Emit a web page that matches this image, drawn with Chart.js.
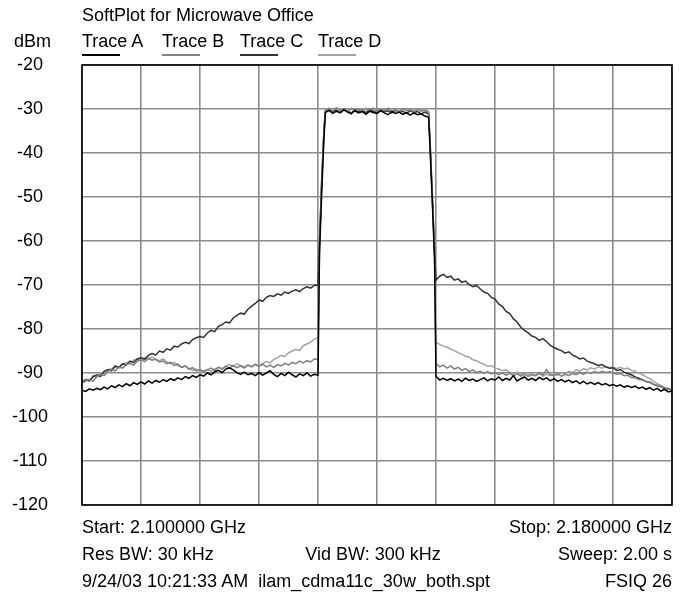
<!DOCTYPE html>
<html>
<head>
<meta charset="utf-8">
<script src="https://cdn.jsdelivr.net/npm/chart.js@4.4.1/dist/chart.umd.min.js"></script>
<style>
  html, body { margin: 0; padding: 0; background: #fff; }
  #wrap { position: relative; width: 685px; height: 593px; overflow: hidden; background: #fff;
          font-family: "Liberation Sans", Arial, Helvetica, sans-serif; color: #000; }
  #c { position: absolute; left: 0; top: 0; }
  .t { position: absolute; font-size: 18px; line-height: 20px; white-space: pre; }
  .ul { position: absolute; height: 2px; width: 38px; }
</style>
</head>
<body>
<div id="wrap">
  <canvas id="c" width="685" height="593"></canvas>
  <div class="t" style="left:82px; top:5px;">SoftPlot for Microwave Office</div>
  <div class="t" style="left:14px; top:31px;">dBm</div>
  <div id="legend"></div>
  <div class="t" style="left:82px; top:517px;">Start: 2.100000 GHz</div>
  <div class="t" style="right:13px; top:517px;">Stop: 2.180000 GHz</div>
  <div class="t" style="left:82px; top:544px;">Res BW: 30 kHz</div>
  <div class="t" style="left:373px; top:544px; transform:translateX(-50%);">Vid BW: 300 kHz</div>
  <div class="t" style="right:13px; top:544px;">Sweep: 2.00 s</div>
  <div class="t" style="left:82px; top:571px;">9/24/03 10:21:33 AM  ilam_cdma11c_30w_both.spt</div>
  <div class="t" style="right:13px; top:571px;">FSIQ 26</div>
</div>
<script>
// ---- axis definitions ----
const yTicks = [-20, -30, -40, -50, -60, -70, -80, -90, -100, -110, -120];
const xGrid = [2100, 2108, 2116, 2124, 2132, 2140, 2148, 2156, 2164, 2172, 2180];

// ---- sweep frequencies (MHz) ----
const freqs = [
  2100,2100.5,2101,2101.5,2102,2102.5,2103,2103.5,2104,2104.5,2105,2105.5,2106,2106.5,2107,2107.5,
  2108,2108.5,2109,2109.5,2110,2110.5,2111,2111.5,2112,2112.5,2113,2113.5,2114,2114.5,2115,2115.5,
  2116,2116.5,2117,2117.5,2118,2118.5,2119,2119.5,2120,2120.5,2121,2121.5,2122,2122.5,2123,2123.5,
  2124,2124.5,2125,2125.5,2126,2126.5,2127,2127.5,2128,2128.5,2129,2129.5,2130,2130.5,2131,2131.5,2132,
  2132.2,2132.5,2132.8,
  2133,2133.5,2134,2134.5,2135,2135.5,2136,2136.5,2137,2137.5,2138,2138.5,2139,2139.5,2140,2140.5,
  2141,2141.5,2142,2142.5,2143,2143.5,2144,2144.5,2145,2145.5,2146,2146.5,2147,
  2147.2,2147.5,2147.8,
  2148,2148.5,2149,2149.5,2150,2150.5,2151,2151.5,2152,2152.5,2153,2153.5,2154,2154.5,2155,2155.5,
  2156,2156.5,2157,2157.5,2158,2158.5,2159,2159.5,2160,2160.5,2161,2161.5,2162,2162.5,2163,2163.5,
  2164,2164.5,2165,2165.5,2166,2166.5,2167,2167.5,2168,2168.5,2169,2169.5,2170,2170.5,2171,2171.5,
  2172,2172.5,2173,2173.5,2174,2174.5,2175,2175.5,2176,2176.5,2177,2177.5,2178,2178.5,2179,2179.5,2180
];

// ---- Trace A (black) ----
const traceA = [
  -93.9,-94.2,-93.6,-93.9,-93.5,-93.8,-93.2,-93.6,-92.9,-93.3,-92.7,-93.1,-92.4,-92.9,-92.2,-92.6,
  -92.0,-92.5,-91.8,-92.3,-91.7,-92.1,-91.5,-91.9,-91.3,-91.7,-91.1,-91.5,-90.8,-91.2,-90.6,-91.0,
  -90.4,-90.7,-90.0,-90.4,-89.7,-89.4,-89.9,-89.1,-88.8,-89.3,-89.9,-90.3,-89.8,-90.4,-90.1,-90.6,
  -89.9,-90.5,-90.0,-89.5,-90.3,-90.8,-90.1,-90.6,-89.8,-90.4,-90.9,-90.2,-90.6,-90.0,-90.7,-90.3,-90.5,
  -63,-49,-37,
  -30.8,-30.3,-31.0,-30.5,-30.9,-30.2,-30.7,-31.1,-30.4,-30.9,-30.6,-31.2,-30.5,-30.8,-31.0,-30.4,
  -30.9,-31.3,-30.6,-31.0,-30.7,-31.2,-30.8,-31.4,-30.9,-31.3,-31.1,-31.6,-31.9,
  -39,-51,-64,
  -90.8,-91.6,-91.2,-91.7,-91.3,-91.8,-91.4,-91.9,-91.2,-91.7,-91.4,-91.9,-91.5,-91.1,-91.8,-91.3,
  -91.6,-90.9,-91.7,-91.2,-91.6,-90.6,-91.8,-91.3,-90.9,-91.6,-91.2,-91.7,-91.0,-91.5,-91.1,-91.8,
  -91.3,-91.9,-91.5,-92.0,-91.6,-92.2,-91.8,-92.4,-91.9,-92.5,-92.1,-92.6,-92.2,-92.7,-92.4,-92.9,
  -92.6,-93.0,-92.7,-93.2,-92.9,-93.3,-93.0,-93.5,-93.2,-93.7,-93.3,-93.9,-93.5,-94.1,-93.7,-94.3,-94.1
];

// ---- Trace B (medium gray) ----
const traceB = [
  -92.3,-91.8,-91.5,-91.9,-90.8,-90.3,-90.6,-89.6,-89.2,-89.5,-88.6,-88.9,-88.1,-87.8,-88.2,-87.3,
  -87.0,-87.4,-86.7,-87.1,-86.9,-87.5,-87.3,-87.9,-87.6,-88.3,-88.0,-88.7,-88.4,-89.1,-88.8,-89.5,
  -89.2,-89.7,-89.3,-88.9,-89.4,-88.7,-89.1,-88.5,-88.9,-88.3,-88.8,-88.4,-88.9,-88.2,-88.6,-88.1,
  -88.5,-88.0,-88.6,-88.2,-88.7,-88.1,-88.4,-87.8,-88.2,-87.6,-87.9,-87.3,-87.7,-87.2,-87.5,-86.8,-86.9,
  -62,-47,-36,
  -30.4,-29.9,-30.5,-29.8,-30.3,-30.0,-30.6,-29.9,-30.4,-30.1,-30.6,-30.0,-30.3,-29.8,-30.5,-30.1,
  -30.4,-29.9,-30.5,-30.2,-30.7,-30.0,-30.4,-30.2,-30.6,-30.1,-30.5,-30.3,-30.8,
  -38,-50,-63,
  -87.8,-88.6,-88.2,-88.9,-88.4,-89.1,-88.7,-89.4,-89.0,-89.7,-89.3,-89.9,-89.6,-90.1,-89.7,-90.2,
  -89.9,-90.4,-90.0,-90.5,-90.1,-90.6,-90.2,-90.7,-90.3,-90.8,-90.4,-90.6,-89.9,-90.5,-89.2,-90.4,
  -90.6,-90.2,-90.7,-90.3,-90.6,-90.1,-90.4,-89.9,-90.3,-89.8,-90.1,-89.7,-90.0,-89.6,-89.9,-89.7,
  -90.0,-90.3,-90.1,-90.6,-90.5,-91.0,-91.1,-91.5,-91.6,-92.0,-92.1,-92.6,-92.8,-93.1,-93.4,-93.6,-93.9
];

// ---- Trace C (dark gray) ----
const traceC = [
  -92.0,-91.6,-91.8,-90.9,-90.4,-90.8,-89.6,-89.2,-89.5,-88.4,-88.7,-87.9,-88.2,-87.3,-87.6,-86.8,
  -86.5,-86.9,-86.0,-85.6,-85.9,-85.0,-85.3,-84.5,-84.8,-83.9,-84.1,-83.4,-83.0,-83.3,-82.4,-82.0,
  -81.7,-81.9,-80.9,-80.3,-80.6,-79.4,-79.0,-78.4,-78.6,-77.5,-76.9,-76.4,-76.6,-75.5,-74.8,-74.2,
  -73.4,-73.7,-72.8,-72.4,-72.6,-72.0,-72.3,-71.6,-71.9,-71.4,-71.1,-71.5,-70.8,-70.4,-70.7,-70.1,-70.0,
  -60,-46,-35,
  -30.6,-30.1,-30.7,-30.3,-30.8,-30.0,-30.5,-30.9,-30.2,-30.6,-30.3,-30.8,-30.1,-30.5,-30.9,-30.2,
  -30.6,-30.4,-30.9,-30.3,-30.7,-30.5,-31.0,-30.4,-30.8,-30.6,-31.1,-30.7,-31.2,
  -38,-50,-62,
  -68.9,-68.0,-67.6,-68.3,-68.0,-68.9,-68.6,-69.4,-69.1,-69.9,-70.4,-70.1,-70.9,-71.6,-71.9,-72.8,
  -73.2,-74.3,-74.9,-76.0,-76.5,-77.7,-78.4,-79.6,-80.3,-80.9,-81.6,-81.9,-82.6,-82.2,-82.9,-83.7,
  -84.2,-84.6,-84.9,-85.5,-85.2,-85.9,-86.3,-86.8,-86.6,-87.3,-87.6,-87.9,-88.3,-88.1,-88.6,-88.9,
  -88.8,-89.4,-89.2,-89.8,-90.1,-90.4,-90.9,-91.2,-91.5,-91.9,-92.1,-92.6,-92.9,-93.1,-93.6,-93.5,-94.0
];

// ---- Trace D (light gray) ----
const traceD = [
  -92.0,-91.4,-91.7,-90.6,-90.9,-89.9,-90.2,-89.3,-89.0,-88.6,-88.9,-88.0,-87.6,-87.9,-87.1,-86.8,
  -87.2,-86.5,-86.8,-86.4,-86.9,-87.2,-86.8,-87.5,-87.9,-87.6,-88.3,-88.7,-88.4,-89.0,-89.4,-89.1,
  -89.8,-89.5,-89.2,-89.6,-89.1,-88.7,-89.0,-88.4,-88.1,-88.5,-87.9,-88.3,-88.6,-88.2,-88.5,-88.0,
  -88.3,-87.8,-87.4,-87.7,-86.9,-86.5,-86.0,-86.3,-85.4,-85.0,-84.6,-84.9,-83.8,-83.4,-83.0,-82.3,-81.9,
  -61,-47,-35,
  -30.2,-29.8,-30.4,-29.7,-30.1,-29.9,-30.5,-29.8,-30.3,-30.0,-30.4,-29.8,-30.2,-29.9,-30.4,-30.0,
  -30.3,-29.8,-30.4,-30.1,-30.5,-29.9,-30.3,-30.1,-30.4,-30.0,-30.3,-30.2,-30.5,
  -37,-49,-62,
  -83.0,-83.5,-83.9,-84.1,-84.6,-84.9,-85.4,-85.7,-86.2,-86.4,-87.0,-87.2,-87.7,-88.0,-88.5,-88.3,
  -88.9,-89.1,-89.5,-89.3,-89.8,-90.1,-89.8,-90.3,-90.0,-90.4,-90.1,-90.6,-90.2,-90.7,-90.3,-90.6,
  -90.2,-90.5,-89.9,-90.2,-89.6,-89.9,-89.3,-89.6,-89.0,-89.3,-88.8,-89.1,-88.6,-88.9,-88.5,-88.8,
  -88.6,-89.0,-88.7,-89.1,-88.9,-89.4,-89.6,-90.1,-90.4,-90.9,-91.3,-91.9,-92.4,-92.8,-93.3,-93.6,-93.9
];

const seriesNames = ['Trace A', 'Trace B', 'Trace C', 'Trace D'];
const seriesValues = [traceA, traceB, traceC, traceD];
const seriesColors = ['#000000', '#808080', '#333333', '#a3a3a3'];

const framePlugin = {
  id: 'frame',
  afterDatasetsDraw(chart) {
    const a = chart.chartArea, ctx = chart.ctx;
    ctx.save();
    ctx.strokeStyle = '#000';
    ctx.lineWidth = 1.6;
    ctx.strokeRect(a.left, a.top, a.right - a.left, a.bottom - a.top);
    ctx.restore();
  }
};

const FONT = '"Liberation Sans", Arial, Helvetica, sans-serif';

const chart = new Chart(document.getElementById('c'), {
  type: 'line',
  data: {
    labels: freqs,
    datasets: seriesNames.map((n, i) => ({
      label: n,
      data: seriesValues[i],
      borderColor: seriesColors[i],
      backgroundColor: seriesColors[i],
      borderWidth: 1.5,
      pointRadius: 0,
      tension: 0,
      fill: false
    }))
  },
  options: {
    responsive: false,
    animation: false,
    events: [],
    layout: { padding: { left: 0, top: 65, right: 13, bottom: 88 } },
    plugins: { legend: { display: false }, tooltip: { enabled: false }, title: { display: false } },
    scales: {
      x: {
        type: 'linear',
        min: 2100, max: 2180,
        afterBuildTicks: s => { s.ticks = xGrid.map(v => ({ value: v })); },
        afterFit: s => { s.height = 0; },
        ticks: { display: false },
        grid: { color: '#8c8c8c', lineWidth: 1.6, drawTicks: false },
        border: { display: false }
      },
      y: {
        min: -120, max: -20,
        afterBuildTicks: s => { s.ticks = yTicks.map(v => ({ value: v })); },
        afterFit: s => { s.width = 82; },
        ticks: {
          color: '#000',
          font: { family: FONT, size: 18 },
          padding: 34,
          crossAlign: 'center',
          callback: v => String(v)
        },
        grid: { color: '#8c8c8c', lineWidth: 1.6, drawTicks: false },
        border: { display: false }
      }
    }
  },
  plugins: [framePlugin]
});

// HTML legend built from the datasets
const legendX = [82, 162, 240, 318];
const legend = document.getElementById('legend');
chart.data.datasets.forEach((ds, i) => {
  const t = document.createElement('div');
  t.className = 't';
  t.style.left = legendX[i] + 'px';
  t.style.top = '31px';
  t.textContent = ds.label;
  legend.appendChild(t);
  const u = document.createElement('div');
  u.className = 'ul';
  u.style.left = legendX[i] + 'px';
  u.style.top = '54px';
  u.style.background = ds.borderColor;
  legend.appendChild(u);
});
</script>
</body>
</html>
